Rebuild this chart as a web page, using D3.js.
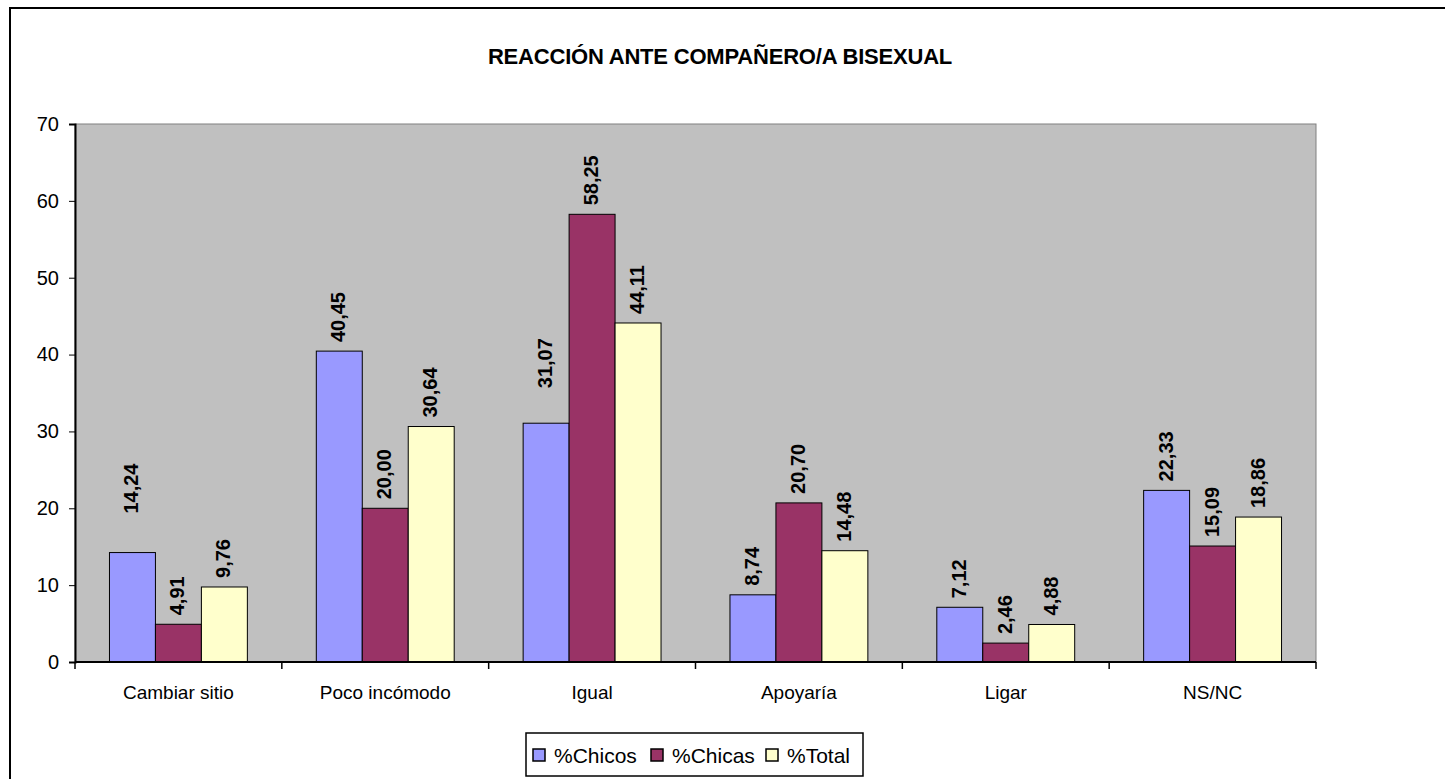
<!DOCTYPE html>
<html>
<head>
<meta charset="utf-8">
<script src="https://cdn.jsdelivr.net/npm/d3@7"></script>
<style>
  body { margin:0; background:#fff; }
  text { font-family: "Liberation Sans", Arial, sans-serif; }
</style>
</head>
<body>
<div id="chart-area"></div>
<script>
// Reacción ante compañero/a bisexual
var categories = ["Cambiar sitio", "Poco incómodo", "Igual", "Apoyaría", "Ligar", "NS/NC"];
var seriesNames = ["%Chicos", "%Chicas", "%Total"];
var chicos = [14.24, 40.45, 31.07, 8.74, 7.12, 22.33];
var chicas = [4.91, 20.00, 58.25, 20.70, 2.46, 15.09];
var total  = [9.76, 30.64, 44.11, 14.48, 4.88, 18.86];
var yTicks = [0, 10, 20, 30, 40, 50, 60, 70];

var colors = ["#9999FF", "#993366", "#FFFFCC"];
// extra lift for a couple of labels that Excel pushed up
var labelLift = [[30, 0, 0], [0, 0, 0], [26, 0, 0], [0, 0, 0], [0, 0, 0], [0, 0, 0]];

var W = 1445, H = 779;
var plot = { left:75, right:1316, top:124, bottom:662 };

var svg = d3.select("#chart-area")
	.append("svg")
		.attr("width", W)
		.attr("height", H);

// outer chart border
svg.append("rect")
	.attr("x", 10).attr("y", 8)
	.attr("width", W).attr("height", H)
	.attr("fill", "#fff")
	.attr("stroke", "#000")
	.attr("stroke-width", 2);

svg.append("text")
	.attr("x", 720)
	.attr("y", 64)
	.attr("text-anchor", "middle")
	.attr("font-size", "22px")
	.attr("font-weight", "bold")
	.attr("letter-spacing", "-0.2px")
	.text("REACCIÓN ANTE COMPAÑERO/A BISEXUAL");

var x0 = d3.scaleBand()
	.domain(categories)
	.range([plot.left, plot.right]);

var x1 = d3.scaleBand()
	.domain(seriesNames)
	.range([x0.bandwidth() / 6, x0.bandwidth() * 5 / 6]);

var y = d3.scaleLinear()
	.domain([0, 70])
	.range([plot.bottom, plot.top]);

// plot area
svg.append("rect")
	.attr("x", plot.left).attr("y", plot.top)
	.attr("width", plot.right - plot.left)
	.attr("height", plot.bottom - plot.top)
	.attr("fill", "#C0C0C0")
	.attr("stroke", "#808080")
	.attr("stroke-width", 1);

var data = categories.map(function(c, i){
	return { cat: c, idx: i, values: [chicos[i], chicas[i], total[i]] };
});

var groups = svg.selectAll("g.cat")
	.data(data)
	.enter().append("g")
		.attr("class", "cat")
		.attr("transform", function(d){ return "translate(" + x0(d.cat) + ",0)"; });

groups.selectAll("rect")
	.data(function(d){ return d.values.map(function(v, j){ return { v:v, s:seriesNames[j], j:j }; }); })
	.enter().append("rect")
		.attr("x", function(d){ return x1(d.s); })
		.attr("y", function(d){ return y(d.v); })
		.attr("width", x1.bandwidth())
		.attr("height", function(d){ return y(0) - y(d.v); })
		.attr("fill", function(d){ return colors[d.j]; })
		.attr("stroke", "#000")
		.attr("stroke-width", 1);

groups.selectAll("text.lbl")
	.data(function(d){ return d.values.map(function(v, j){ return { v:v, s:seriesNames[j], j:j, i:d.idx }; }); })
	.enter().append("text")
		.attr("class", "lbl")
		.attr("transform", function(d){
			var cx = x1(d.s) + x1.bandwidth() / 2 + 6;
			var cy = y(d.v) - 9 - labelLift[d.i][d.j];
			return "translate(" + cx + "," + cy + ") rotate(-90)";
		})
		.attr("font-size", "20px")
		.attr("font-weight", "bold")
		.text(function(d){ return d.v.toFixed(2).replace(".", ","); });

// axes
var yAxis = d3.axisLeft(y)
	.tickValues(yTicks)
	.tickSize(6)
	.tickPadding(10);

var yG = svg.append("g")
	.attr("transform", "translate(" + plot.left + ",0)")
	.call(yAxis);
yG.select(".domain").attr("stroke", "#000").attr("stroke-width", 2);
yG.selectAll("text").attr("font-size", "20px").attr("font-family", "Liberation Sans, Arial, sans-serif").attr("fill", "#000");

var xG = svg.append("g")
	.attr("transform", "translate(0," + plot.bottom + ")");
xG.append("line")
	.attr("x1", plot.left).attr("x2", plot.right)
	.attr("stroke", "#000").attr("stroke-width", 2);
xG.selectAll("line.tick")
	.data(categories.concat(["end"]))
	.enter().append("line")
		.attr("class", "tick")
		.attr("x1", function(d, i){ return plot.left + i * x0.bandwidth(); })
		.attr("x2", function(d, i){ return plot.left + i * x0.bandwidth(); })
		.attr("y1", 0).attr("y2", 7)
		.attr("stroke", "#000").attr("stroke-width", 1.5);
xG.selectAll("text")
	.data(categories)
	.enter().append("text")
		.attr("x", function(d){ return x0(d) + x0.bandwidth() / 2; })
		.attr("y", 37)
		.attr("text-anchor", "middle")
		.attr("font-size", "19px")
		.text(function(d){ return d; });

// legend
var legend = svg.append("g").attr("transform", "translate(526,733)");
legend.append("rect")
	.attr("width", 337).attr("height", 43)
	.attr("fill", "#fff").attr("stroke", "#000").attr("stroke-width", 1.5);
var lx = [7, 125, 240];
var items = legend.selectAll("g.item")
	.data(seriesNames)
	.enter().append("g")
		.attr("class", "item")
		.attr("transform", function(d, i){ return "translate(" + lx[i] + ",0)"; });
items.append("rect")
	.attr("x", 0).attr("y", 16)
	.attr("width", 12).attr("height", 12)
	.attr("fill", function(d, i){ return colors[i]; })
	.attr("stroke", "#000").attr("stroke-width", 1.5);
items.append("text")
	.attr("x", 21).attr("y", 30)
	.attr("font-size", "21px")
	.text(function(d){ return d; });
</script>
</body>
</html>
